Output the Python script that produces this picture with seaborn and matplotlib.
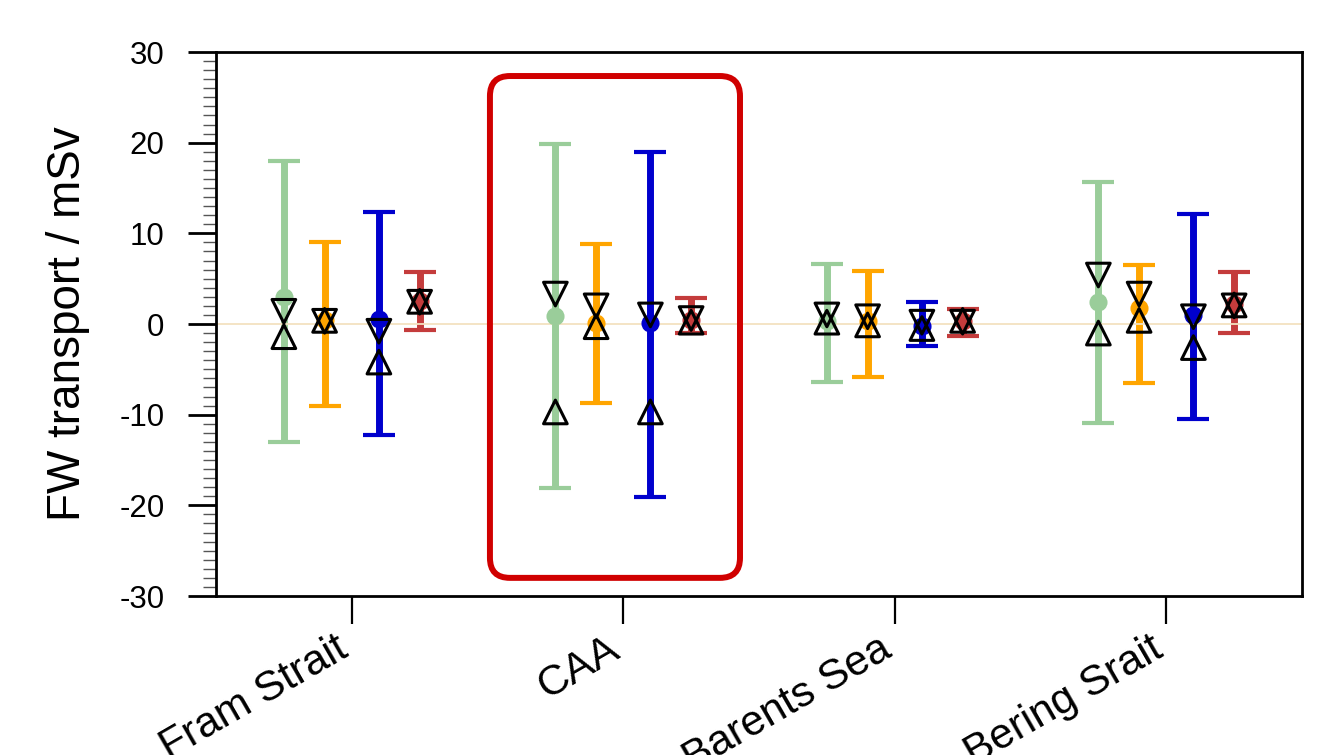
import numpy as np
import pandas as pd
import matplotlib
matplotlib.use("Agg")
import matplotlib.pyplot as plt
import seaborn as sns
from matplotlib.patches import FancyBboxPatch
from matplotlib.transforms import IdentityTransform
from matplotlib.ticker import MultipleLocator

# ---------------- data ----------------
categories = ["Fram Strait", "CAA", "Barents Sea", "Bering Srait"]
series = ["green", "orange", "blue", "red"]

green_max = [18.0, 19.9, 6.6, 15.7]
green_min = [-13.0, -18.1, -6.4, -10.9]
green_mean = [3.0, 0.9, 0.3, 2.4]
green_down = [1.4, 3.3, 1.0, 5.4]
green_up = [-1.4, -9.7, 0.2, -1.0]

orange_max = [9.0, 8.8, 5.8, 6.5]
orange_min = [-9.0, -8.7, -5.8, -6.5]
orange_mean = [0.4, 0.1, 0.3, 1.8]
orange_down = [0.3, 2.0, 0.8, 3.3]
orange_up = [0.4, -0.3, -0.1, 0.4]

blue_max = [12.3, 19.0, 2.4, 12.1]
blue_min = [-12.2, -19.1, -2.4, -10.5]
blue_mean = [0.6, 0.1, -0.2, 1.0]
blue_down = [-0.8, 1.0, 0.2, 0.8]
blue_up = [-4.2, -9.7, -0.5, -2.6]

red_max = [5.7, 2.9, 1.6, 5.7]
red_min = [-0.7, -1.0, -1.3, -1.0]
red_mean = [2.5, 0.4, 0.3, 2.2]
red_down = [2.4, 0.6, 0.2, 2.0]
red_up = [2.5, 0.2, 0.4, 2.1]

yticks = [-30, -20, -10, 0, 10, 20, 30]

# ---------------- styles / layout ----------------
colors = {"green": "#9ACD9A", "orange": "#FFA500", "blue": "#0000CD", "red": "#C43C3C"}
offsets = {"green": -0.25, "orange": -0.1, "blue": 0.1, "red": 0.25}

data = {
    "green": (green_max, green_min, green_mean, green_down, green_up),
    "orange": (orange_max, orange_min, orange_mean, orange_down, orange_up),
    "blue": (blue_max, blue_min, blue_mean, blue_down, blue_up),
    "red": (red_max, red_min, red_mean, red_down, red_up),
}

rows = []
for s in series:
    mx, mn, me, dn, up = data[s]
    for i, c in enumerate(categories):
        rows.append(dict(series=s, category=c, x=i + 0.5 + offsets[s],
                         vmax=mx[i], vmin=mn[i], mean=me[i], down=dn[i], up=up[i]))
df = pd.DataFrame(rows)

sns.set_style("ticks")
plt.rcParams["font.family"] = ["Liberation Sans", "DejaVu Sans"]
plt.rcParams["text.color"] = "black"
plt.rcParams["axes.labelcolor"] = "black"
plt.rcParams["xtick.color"] = "black"
plt.rcParams["ytick.color"] = "black"

fig = plt.figure(figsize=(13.36, 7.55), dpi=100)
ax = fig.add_axes([216 / 1336, 1 - 596 / 755, (1302 - 216) / 1336, (596 - 52) / 755])

for s in series:
    d = df[df.series == s]
    mid = (d.vmax + d.vmin) / 2
    half = (d.vmax - d.vmin) / 2
    ax.errorbar(d.x, mid, yerr=half, fmt="none", ecolor=colors[s], elinewidth=5,
                capsize=11.5, capthick=3, zorder=2)
    sns.scatterplot(data=d, x="x", y="mean", color=colors[s], s=170, linewidth=0,
                    ax=ax, zorder=3, legend=False)

ax.axhline(0, color="#F3E2C0", lw=1.3, zorder=2.5)

for s in series:
    d = df[df.series == s]
    sns.scatterplot(data=d, x="x", y="down", marker="v", s=290, facecolors="none",
                    edgecolor="black", linewidth=2.2, ax=ax, zorder=4, legend=False)
    sns.scatterplot(data=d, x="x", y="up", marker="^", s=290, facecolors="none",
                    edgecolor="black", linewidth=2.2, ax=ax, zorder=4, legend=False)

ax.set_xlim(0, len(categories))
ax.set_ylim(-30, 30)
xpos = np.arange(len(categories)) + 0.5
ax.set_xticks(xpos)
ax.set_xticklabels([""] * len(categories))
for xp, cat in zip(xpos, categories):
    ax.annotate(cat, xy=(xp, 0), xycoords=ax.get_xaxis_transform(),
                xytext=(-12, -23.5), textcoords="offset points",
                rotation=30, ha="right", va="top", rotation_mode="anchor",
                fontsize=30.5, color="black", annotation_clip=False)
ax.set_yticks(yticks)
ax.set_yticklabels([str(t) for t in yticks], fontsize=22.5, color="black")
ax.yaxis.set_minor_locator(MultipleLocator(1))
ax.tick_params(axis="y", which="major", direction="out", length=20, width=2, pad=17,
               left=True, right=False)
ax.tick_params(axis="y", which="minor", direction="out", length=9.5, width=1,
               color="#555555", left=True, right=False)
ax.tick_params(axis="x", which="major", direction="out", length=20, width=1.6, pad=5,
               bottom=True, top=False)
ax.tick_params(axis="x", which="minor", bottom=False)
ax.set_xlabel("")
ax.set_ylabel("FW transport / mSv", fontsize=33, color="black")
ax.yaxis.set_label_coords(-0.116, 0.5)
for sp in ax.spines.values():
    sp.set_linewidth(2)
    sp.set_color("black")

# highlight box around CAA
(x0, y0) = ax.transData.transform((1.009, -28.0))
(x1, y1) = ax.transData.transform((1.930, 27.35))
box = FancyBboxPatch((x0, y0), x1 - x0, y1 - y0,
                     boxstyle="round,pad=0,rounding_size=20",
                     transform=IdentityTransform(), fill=False,
                     edgecolor="#D00000", linewidth=4.3, zorder=5, clip_on=False)
fig.add_artist(box)

fig.savefig("out.png", dpi=100)
